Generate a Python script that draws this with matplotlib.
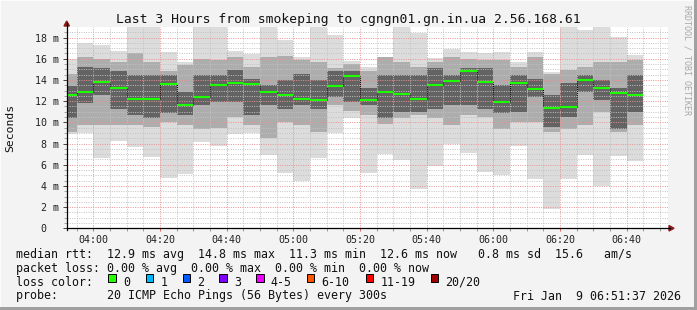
import matplotlib
matplotlib.use('Agg')
import matplotlib.pyplot as plt
from matplotlib.ticker import FixedLocator, MultipleLocator
from matplotlib.lines import Line2D
from matplotlib.patches import Rectangle, Polygon

W, H = 697, 310
MONO = 'DejaVu Sans Mono'

# end time of each 5-minute step
times = ["03:55", "04:00", "04:05", "04:10", "04:15", "04:20", "04:25", "04:30",
         "04:35", "04:40", "04:45", "04:50", "04:55", "05:00", "05:05", "05:10",
         "05:15", "05:20", "05:25", "05:30", "05:35", "05:40", "05:45", "05:50",
         "05:55", "06:00", "06:05", "06:10", "06:15", "06:20", "06:25", "06:30",
         "06:35", "06:40", "06:45"]

# median rtt (ms)
median = [12.58, 12.90, 13.83, 13.27, 12.20, 12.20, 13.64, 11.63, 12.40, 13.50,
          13.70, 13.64, 12.90, 12.60, 12.20, 12.10, 13.40, 14.37, 12.13, 12.89,
          12.67, 12.20, 13.52, 13.93, 14.87, 13.83, 11.92, 13.74, 13.14, 11.38,
          11.47, 13.99, 13.26, 12.79, 12.58]

# smoke envelope (ms): outer min/max, medium band, dark core
ping_max = [16.0, 17.45, 17.3, 16.7, 19.6, 19.6, 16.6, 15.7, 19.6, 19.6,
            16.7, 16.4, 19.6, 17.76, 16.2, 19.6, 18.2, 15.8, 15.2, 16.2,
            19.6, 18.4, 16.1, 16.9, 16.6, 16.5, 16.6, 15.7, 16.6, 14.7,
            19.6, 18.7, 19.6, 18.0, 16.35]
ping_min = [8.87, 8.98, 6.66, 8.27, 7.70, 6.75, 4.71, 5.12, 8.10, 7.76,
            8.87, 8.98, 6.92, 5.25, 4.49, 6.66, 8.96, 10.4, 5.19, 6.98,
            6.44, 3.68, 5.90, 8.00, 7.13, 5.34, 5.03, 7.76, 4.68, 1.79,
            4.68, 6.92, 3.99, 6.85, 6.38]
band_hi = [14.6, 16.2, 16.0, 15.7, 16.5, 15.7, 14.8, 15.4, 16.0, 15.9,
           16.2, 15.2, 16.2, 16.3, 15.9, 15.7, 15.1, 15.5, 14.8, 16.2,
           15.7, 15.2, 15.7, 16.2, 16.0, 15.9, 15.9, 15.2, 16.2, 14.6,
           14.9, 15.2, 15.7, 15.7, 15.9]
band_lo = [9.1, 9.75, 9.75, 9.75, 9.75, 9.6, 10.06, 9.75, 9.4, 9.43,
           10.5, 9.75, 8.5, 10.06, 9.75, 9.1, 11.6, 11.1, 10.7, 9.8,
           10.4, 10.7, 10.4, 9.75, 10.7, 10.5, 9.4, 10.06, 10.06, 9.1,
           9.4, 9.75, 11.0, 9.1, 9.75]
core_hi = [13.4, 15.2, 15.1, 14.8, 14.5, 14.5, 14.5, 12.9, 14.5, 14.5,
           14.9, 14.1, 13.5, 14.0, 14.6, 14.0, 14.8, 14.8, 13.2, 14.5,
           14.5, 14.5, 15.1, 14.5, 15.1, 15.1, 13.5, 14.5, 14.1, 12.6,
           13.7, 14.5, 14.0, 13.2, 14.5]
core_lo = [10.4, 11.8, 12.6, 11.3, 10.7, 10.4, 10.85, 10.7, 11.6, 11.9,
           11.9, 10.7, 11.6, 11.3, 11.6, 11.3, 12.4, 11.9, 11.6, 10.4,
           11.0, 11.0, 11.3, 11.6, 11.6, 11.3, 10.85, 11.0, 12.4, 9.6,
           10.5, 12.9, 12.1, 9.4, 11.0]

xtick_labels = ["04:00", "04:20", "04:40", "05:00", "05:20", "05:40", "06:00", "06:20", "06:40"]
ytick_labels = [" 0", " 2 m", " 4 m", " 6 m", " 8 m", "10 m", "12 m", "14 m", "16 m", "18 m"]

title = "Last 3 Hours from smokeping to cgngn01.gn.in.ua 2.56.168.61"
legend_lines = [
    "median rtt:  12.9 ms avg  14.8 ms max  11.3 ms min  12.6 ms now   0.8 ms sd  15.6   am/s",
    "packet loss: 0.00 % avg  0.00 % max  0.00 % min  0.00 % now",
    "loss color:",
    "probe:       20 ICMP Echo Pings (56 Bytes) every 300s",
]
loss_labels = ["0", "1", "2", "3", "4-5", "6-10", "11-19", "20/20"]
loss_colors = ["#26ff00", "#00b8ff", "#0059ff", "#7e00ff", "#ee00ff", "#ff5500", "#ff0000", "#a10000"]
stamp = "Fri Jan  9 06:51:37 2026"


def minutes(s):
    h, m = s.split(':')
    return int(h) * 60 + int(m)


def fx(px):
    return px / W


def fy(py):
    return 1 - py / H


end = [minutes(t) for t in times]
left = [e - 5 for e in end]

fig = plt.figure(figsize=(W / 100, H / 100), dpi=100)
fig.patch.set_facecolor('#f3f3f3')

# frame of the rrdtool image
fig.add_artist(Rectangle((0, 0), 1, 1, transform=fig.transFigure, fill=False,
                         edgecolor='#fcfcfc', lw=1.5))
fig.add_artist(Rectangle((fx(694), 0), fx(3), 1, transform=fig.transFigure,
                         facecolor='#a0a0a0', edgecolor='none'))
fig.add_artist(Rectangle((0, 0), 1, 3 / H, transform=fig.transFigure,
                         facecolor='#a0a0a0', edgecolor='none'))

x0, x1, y_top, y_bot = 66.7, 668.3, 27.0, 228.3
ax = fig.add_axes([fx(x0), fy(y_bot), fx(x1 - x0), (y_bot - y_top) / H])
ax.set_facecolor('white')
ax.set_xlim(232, 232 + (x1 - x0) / (200 / 60))
ax.set_ylim(0, (y_bot - y_top) / 10.6)

w = [5] * len(left)
ax.bar(left, [a - b for a, b in zip(ping_max, ping_min)], bottom=ping_min, width=w,
       align='edge', color='#dcdcdc', lw=0, zorder=1)
ax.bar(left, [a - b for a, b in zip(band_hi, band_lo)], bottom=band_lo, width=w,
       align='edge', color='#adadad', lw=0, zorder=1.1)
ax.bar(left, [a - b for a, b in zip(core_hi, core_lo)], bottom=core_lo, width=w,
       align='edge', color='#636363', lw=0, zorder=1.2)

# step connectors and median
for i in range(1, len(median)):
    ax.vlines(left[i], min(median[i - 1], median[i]), max(median[i - 1], median[i]),
              color='black', lw=0.7, linestyles=(0, (1, 1)), zorder=4)
ax.hlines(median, left, end, color='#1cff00', lw=1.5, zorder=5)

# grid
ax.xaxis.set_major_locator(FixedLocator([minutes(t) for t in xtick_labels]))
ax.xaxis.set_minor_locator(MultipleLocator(5))
ax.yaxis.set_major_locator(MultipleLocator(2))
ax.yaxis.set_minor_locator(MultipleLocator(0.5))
ax.set_axisbelow(False)
ax.grid(which='major', color='#ee8f8f', lw=0.7, linestyle=(0, (1, 1.4)))
ax.grid(which='minor', color='#c2c2c2', lw=0.7, linestyle=(0, (1, 1.4)))

ax.set_xticklabels(xtick_labels, fontfamily=MONO, fontsize=7.2, color='#222222')
ax.set_yticks(range(0, 19, 2))
ax.set_yticklabels(ytick_labels, fontfamily=MONO, fontsize=7.2, color='#222222',
                   ha='left')
ax.tick_params(axis='x', which='major', length=2, width=0.7, color='#e06060', pad=3)
ax.tick_params(axis='x', which='minor', length=2, width=0.7, color='#999999')
ax.tick_params(axis='y', which='major', length=3, width=0.7, color='#444444', pad=19.5)
ax.tick_params(axis='y', which='minor', length=2, width=0.6, color='#999999')

for s in ax.spines.values():
    s.set_visible(False)

# axes with arrows
fig.add_artist(Line2D([fx(x0), fx(670)], [fy(y_bot), fy(y_bot)], color='black', lw=0.9))
fig.add_artist(Line2D([fx(x0), fx(x0)], [fy(y_bot + 2), fy(23)], color='black', lw=0.9))
fig.add_artist(Polygon([(fx(669), fy(225.5)), (fx(674), fy(y_bot)), (fx(669), fy(231))],
                       closed=True, transform=fig.transFigure, color='#8b1a1a'))
fig.add_artist(Polygon([(fx(x0 - 2.7), fy(26)), (fx(x0), fy(21)), (fx(x0 + 2.7), fy(26))],
                       closed=True, transform=fig.transFigure, color='#8b1a1a'))

# texts
fig.text(fx(348), fy(19.5), title, family=MONO, fontsize=9.4, ha='center', va='center',
         color='#111111')
fig.text(fx(10), fy(128), "Seconds", family=MONO, fontsize=8.2, rotation=90,
         ha='center', va='center', color='#111111')
fig.text(fx(687), fy(5), "RRDTOOL / TOBI OETIKER", family=MONO, fontsize=6.0,
         rotation=270, ha='center', va='top', color='#a8a8a8')

baselines = [257.7, 271.7, 285.6, 299.5]
for line, yb in zip(legend_lines, baselines):
    fig.text(fx(16), fy(yb), line, family=MONO, fontsize=8.4, va='baseline', color='#111111')

sq_x = [108.3, 145.7, 182.7, 219.3, 256.0, 306.7, 365.7, 430.7]
for lab, col, sx in zip(loss_labels, loss_colors, sq_x):
    fig.add_artist(Rectangle((fx(sx), fy(282)), fx(7.7), 7.7 / H, transform=fig.transFigure,
                             facecolor=col, edgecolor='black', lw=0.7))
    fig.text(fx(sx + 14.7), fy(baselines[2]), lab, family=MONO, fontsize=8.4,
             va='baseline', color='#111111')

fig.text(fx(681), fy(baselines[3]), stamp, family=MONO, fontsize=8.4, ha='right',
         va='baseline', color='#111111')

fig.savefig('out.png', dpi=100, facecolor=fig.get_facecolor())
